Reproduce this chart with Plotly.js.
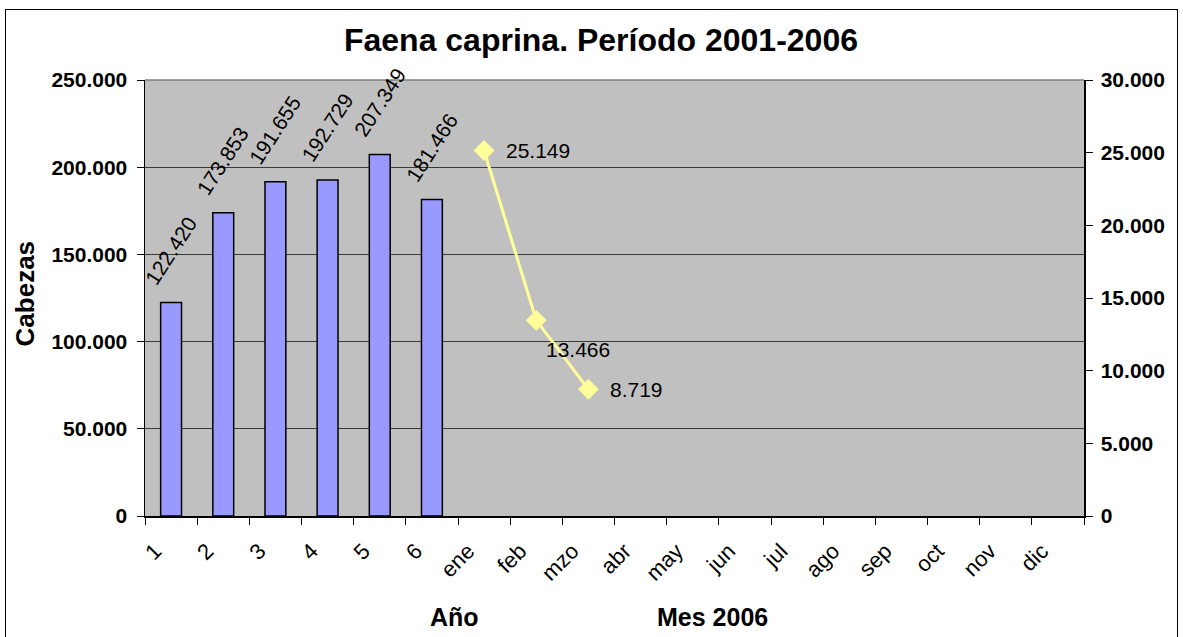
<!DOCTYPE html>
<html>
<head>
<meta charset="utf-8">
<script src="https://cdn.plot.ly/plotly-3.0.1.min.js"></script>
<style>
  html, body { margin: 0; padding: 0; background: #fff; }
  #wrap { position: relative; width: 1183px; height: 637px; overflow: hidden; }
  #chart { position: absolute; left: 0; top: 0; width: 1183px; height: 637px; }
  #frame { position: absolute; left: 5px; top: 9px; width: 1171px; height: 700px;
           border: 1px solid #000; pointer-events: none; }
</style>
</head>
<body>
<div id="wrap">
  <div id="chart"></div>
  <div id="frame"></div>
</div>
<script>
const categories = ['1','2','3','4','5','6','ene','feb','mzo','abr','may','jun','jul','ago','sep','oct','nov','dic'];
const yearLabels = ['1','2','3','4','5','6'];
const yearValues = [122420, 173853, 191655, 192729, 207349, 181466];
const monthLabels = ['ene','feb','mzo'];
const monthValues = [25149, 13466, 8719];
const leftTicks = [0, 50000, 100000, 150000, 200000, 250000];
const rightTicks = [0, 5000, 10000, 15000, 20000, 25000, 30000];

function fmt(v) { return String(v).replace(/\B(?=(\d{3})+(?!\d))/g, '.'); }

const FONT = 'Liberation Sans, Arial, sans-serif';

const barTrace = {
  type: 'bar',
  x: yearLabels,
  y: yearValues,
  width: 0.4,
  marker: { color: '#9999FF', line: { color: '#000', width: 1.5 } },
  hoverinfo: 'none'
};

const lineTrace = {
  type: 'scatter',
  mode: 'lines+markers',
  x: monthLabels,
  y: monthValues,
  yaxis: 'y2',
  line: { color: '#FFFF99', width: 3 },
  marker: { symbol: 'diamond', size: 16, color: '#FFFF99', line: { color: '#FFFF99', width: 0 } },
  cliponaxis: false,
  hoverinfo: 'none'
};

// category axis: annotation x given as category index
const barAnnotations = yearLabels.map((c, i) => ({
  x: categories.indexOf(c), y: yearValues[i], xref: 'x', yref: 'y',
  text: fmt(yearValues[i]), showarrow: false,
  textangle: -57, xanchor: 'center', yanchor: 'bottom', yshift: 11,
  font: { family: FONT, size: 21, color: '#000' }
}));

const labelShifts = [[20, 0], [8, -29], [20, 0]];
const lineAnnotations = monthLabels.map((m, i) => ({
  x: categories.indexOf(m), y: monthValues[i], xref: 'x', yref: 'y2',
  text: fmt(monthValues[i]), showarrow: false,
  xanchor: 'left', yanchor: 'middle',
  xshift: labelShifts[i][0], yshift: labelShifts[i][1],
  font: { family: FONT, size: 21, color: '#000' }
}));

const layout = {
  width: 1183, height: 637,
  margin: { l: 145, r: 99, t: 80, b: 121, pad: 0 },
  paper_bgcolor: '#fff',
  plot_bgcolor: '#C0C0C0',
  showlegend: false,
  separators: ',.',
  font: { family: FONT, color: '#000' },
  title: {
    text: '<b>Faena caprina. Período 2001-2006</b>',
    font: { family: FONT, size: 32, color: '#000' },
    x: 0.508, xanchor: 'center', y: 0.937, yanchor: 'middle'
  },
  xaxis: {
    type: 'category',
    categoryorder: 'array',
    categoryarray: categories,
    tickvals: categories,
    ticktext: categories,
    range: [-0.5, categories.length - 0.5],
    tickangle: -45,
    tickfont: { family: FONT, size: 22, color: '#000' },
    ticklabelshift: -16, ticklabelstandoff: 12,
    ticks: 'outside', tickson: 'boundaries', ticklen: 7, tickcolor: '#000', tickwidth: 1,
    showline: true, linecolor: '#000', linewidth: 1.5,
    showgrid: false, zeroline: false, automargin: false, fixedrange: true
  },
  yaxis: {
    range: [0, 250000],
    tickvals: leftTicks,
    ticktext: leftTicks.map(v => '<b>' + fmt(v) + '</b>'),
    tickfont: { family: FONT, size: 21, color: '#000' },
    ticklabelstandoff: 5,
    ticks: 'outside', ticklen: 7, tickcolor: '#000', tickwidth: 1,
    showline: true, linecolor: '#000', linewidth: 1.5,
    showgrid: true, gridcolor: '#3a3a3a', gridwidth: 1,
    zeroline: false, automargin: false, fixedrange: true
  },
  yaxis2: {
    overlaying: 'y', side: 'right',
    range: [0, 30000],
    tickvals: rightTicks,
    ticktext: rightTicks.map(v => '<b>' + fmt(v) + '</b>'),
    tickfont: { family: FONT, size: 21, color: '#000' },
    ticklabelstandoff: 4,
    ticks: 'outside', ticklen: 7, tickcolor: '#000', tickwidth: 1,
    showline: true, linecolor: '#000', linewidth: 1.5,
    showgrid: false, zeroline: false, automargin: false, fixedrange: true
  },
  shapes: [
    { type: 'line', xref: 'paper', yref: 'paper', x0: 0, x1: 1, y0: 1, y1: 1,
      line: { color: '#808080', width: 1.5 } }
  ],
  annotations: [
    { text: '<b>Cabezas</b>', xref: 'paper', yref: 'paper', x: -0.128, y: 0.51,
      textangle: -90, showarrow: false, xanchor: 'center', yanchor: 'middle',
      font: { family: FONT, size: 26, color: '#000' } },
    { text: '<b>Año</b>', xref: 'paper', yref: 'paper', x: 0.33, y: -0.232,
      showarrow: false, xanchor: 'center', yanchor: 'middle',
      font: { family: FONT, size: 25, color: '#000' } },
    { text: '<b>Mes 2006</b>', xref: 'paper', yref: 'paper', x: 0.604, y: -0.232,
      showarrow: false, xanchor: 'center', yanchor: 'middle',
      font: { family: FONT, size: 25, color: '#000' } }
  ].concat(barAnnotations, lineAnnotations)
};

Plotly.newPlot('chart', [barTrace, lineTrace], layout, { displayModeBar: false, staticPlot: true });
</script>
</body>
</html>
